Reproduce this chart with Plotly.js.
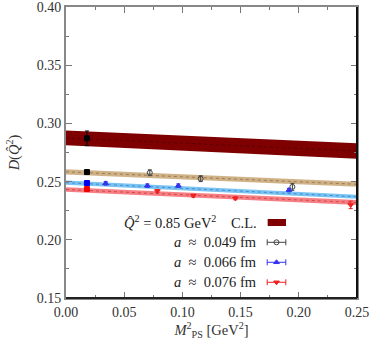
<!DOCTYPE html>
<html>
<head>
<meta charset="utf-8">
<script src="https://cdn.plot.ly/plotly-3.0.1.min.js"></script>
<style>
	html, body { margin: 0; padding: 0; background: #fff; }
	#root { width: 370px; height: 341px; }
</style>
</head>
<body>
<div id="root"></div>
<script>
// fit bands, linear in M_PS^2
let bandX = [0, 0.25];
let clMid = [0.2875, 0.2763];
let clHalf = [0.0063, 0.0066];
let b049Mid = [0.2584, 0.2477];
let b049Half = [0.0022, 0.0022];
let b066Mid = [0.2491, 0.2370];
let b066Half = [0.0018, 0.0018];
let b076Mid = [0.2432, 0.2320];
let b076Half = [0.0020, 0.0022];

// lattice points
let x049 = [0.072, 0.1157, 0.1945];
let y049 = [0.2576, 0.2525, 0.2455];
let e049 = [0.0025, 0.0025, 0.003];
let x066 = [0.0341, 0.0699, 0.0965, 0.1915];
let y066 = [0.2485, 0.2465, 0.2465, 0.2427];
let e066 = [0.0015, 0.0015, 0.0015, 0.0015];
let x076 = [0.0785, 0.1094, 0.1455, 0.2446];
let y076 = [0.2419, 0.2379, 0.2356, 0.2300];
let e076 = [0.0012, 0.0012, 0.0012, 0.0032];

// values at the physical point
let xPhys = [0.018];
let yPhysCL = [0.2872];
let ePhysCL = [0.0063];
let yPhys049 = [0.2582];
let yPhys066 = [0.2488];
let yPhys076 = [0.2436];

let xTicks = [0, 0.05, 0.10, 0.15, 0.20, 0.25];
let xTickText = ['0.00', '0.05', '0.10', '0.15', '0.20', '0.25'];
let yTicks = [0.15, 0.20, 0.25, 0.30, 0.35, 0.40];
let yTickText = ['0.15', '0.20', '0.25', '0.30', '0.35', '0.40'];

let legendLabels = [
	'<i>Q\u0302</i><sup>2</sup> = 0.85 GeV<sup>2</sup>    C.L.',
	'<i>a</i>  \u2248  0.049 fm',
	'<i>a</i>  \u2248  0.066 fm',
	'<i>a</i>  \u2248  0.076 fm'
];

let serif = 'Liberation Serif, DejaVu Serif, serif';

function band(mid, half, fill, line) {
	let up = mid.map((m, i) => m + half[i]);
	let lo = mid.map((m, i) => m - half[i]);
	let traces = [{
		x: bandX.concat(bandX.slice().reverse()),
		y: up.concat(lo.slice().reverse()),
		type: 'scatter', mode: 'lines', fill: 'toself',
		fillcolor: fill, line: {width: 0}, hoverinfo: 'skip'
	}];
	traces.push({
		x: bandX, y: mid, type: 'scatter', mode: 'lines',
		line: {color: line, width: 1, dash: 'dot'}, hoverinfo: 'skip'
	});
	return traces;
}

function points(x, y, e, color, symbol, size) {
	return {
		x: x, y: y, type: 'scatter', mode: 'markers',
		marker: {color: color, symbol: symbol, size: size, line: {color: color, width: 1}},
		error_y: {type: 'data', array: e, color: color, thickness: 1, width: 2}
	};
}

function createGraph() {
	let data = [];
	data = data.concat(band(clMid, clHalf, '#7f0000', '#5a0000'));
	data = data.concat(band(b049Mid, b049Half, 'rgba(200,165,115,0.85)', '#9c7c50'));
	data = data.concat(band(b066Mid, b066Half, 'rgba(100,185,240,0.85)', '#3f8fd0'));
	data = data.concat(band(b076Mid, b076Half, 'rgba(245,105,110,0.85)', '#d04850'));

	data.push(points(x049, y049, e049, '#444', 'circle-open', 5));
	data.push(points(x066, y066, e066, '#3333ee', 'triangle-up', 5));
	data.push(points(x076, y076, e076, '#ee2222', 'triangle-down', 5));

	data.push(points(xPhys, yPhysCL, ePhysCL, '#000', 'square', 5));
	data.push(points(xPhys, yPhys049, [0.001], '#000', 'square', 5));
	data.push(points(xPhys, yPhys066, [0.001], '#0000ee', 'square', 5));
	data.push(points(xPhys, yPhys076, [0.001], '#ee0000', 'square', 5));

	// legend keys on an overlay axis in plot-fraction units
	let keyX = 0.7234;
	let keyRows = [0.1914, 0.1227, 0.054];
	let keyColors = ['#444', '#3333ee', '#ee2222'];
	let keySymbols = ['circle-open', 'triangle-up', 'triangle-down'];
	for (let i = 0; i < 3; i++) {
		data.push({
			x: [keyX], y: [keyRows[i]], xaxis: 'x2', yaxis: 'y2',
			type: 'scatter', mode: 'markers',
			marker: {color: keyColors[i], symbol: keySymbols[i], size: 5, line: {color: keyColors[i], width: 1}},
			error_x: {type: 'data', array: [0.032], color: keyColors[i], thickness: 1, width: 3}
		});
	}

	let annRows = [222, 242, 262, 282].map(v => (298 - v) / 291);
	let annotations = legendLabels.map((t, i) => ({
		text: t, xref: 'paper', yref: 'paper', x: 0.6632, y: annRows[i],
		xanchor: 'right', yanchor: 'middle', showarrow: false,
		font: {family: serif, size: 14.5, color: '#222'}
	}));

	let axisCommon = {
		showline: true, linecolor: '#888', linewidth: 2, mirror: 'ticks',
		ticks: 'inside', ticklen: 6, tickcolor: '#777', tickwidth: 1,
		showgrid: false, zeroline: false, tickmode: 'array',
		ticklabeloverflow: 'allow',
		tickfont: {family: serif, size: 14, color: '#333'}
	};

	let layout = {
		width: 370, height: 341,
		margin: {l: 66, r: 13, t: 7, b: 43},
		paper_bgcolor: '#fff', plot_bgcolor: '#fff',
		showlegend: false,
		xaxis: Object.assign({}, axisCommon, {
			range: [0, 0.25], tickvals: xTicks, ticktext: xTickText,
			minor: {dtick: 0.025, tick0: 0, ticks: 'inside', ticklen: 3, tickcolor: '#777'},
			title: {text: '<i>M</i><sup>2</sup><sub>PS</sub> [GeV<sup>2</sup>]', standoff: 5,
				font: {family: serif, size: 14.5, color: '#333'}}
		}),
		yaxis: Object.assign({}, axisCommon, {
			range: [0.15, 0.40], tickvals: yTicks, ticktext: yTickText,
			minor: {dtick: 0.025, tick0: 0.15, ticks: 'inside', ticklen: 3, tickcolor: '#777'},
			title: {text: '<i>D</i>(<i>Q\u0302</i><sup>2</sup>)', standoff: 14,
				font: {family: serif, size: 14.5, color: '#333'}}
		}),
		xaxis2: {overlaying: 'x', range: [0, 1], visible: false},
		yaxis2: {overlaying: 'y', range: [0, 1], visible: false},
		shapes: [
			{type: 'rect', xref: 'paper', yref: 'paper', x0: 0.693, x1: 0.756, y0: 0.2474, y1: 0.2715,
				fillcolor: '#7f0000', line: {width: 0}},
			{type: 'line', xref: 'paper', yref: 'paper', x0: 1, x1: 1, y0: 0, y1: 1,
				line: {color: '#111', width: 2}},
			{type: 'line', xref: 'paper', yref: 'paper', x0: 0, x1: 1, y0: 0, y1: 0,
				line: {color: '#222', width: 2}}
		],
		annotations: annotations
	};

	Plotly.newPlot('root', data, layout, {displayModeBar: false, staticPlot: true});
}

createGraph();
</script>
</body>
</html>
